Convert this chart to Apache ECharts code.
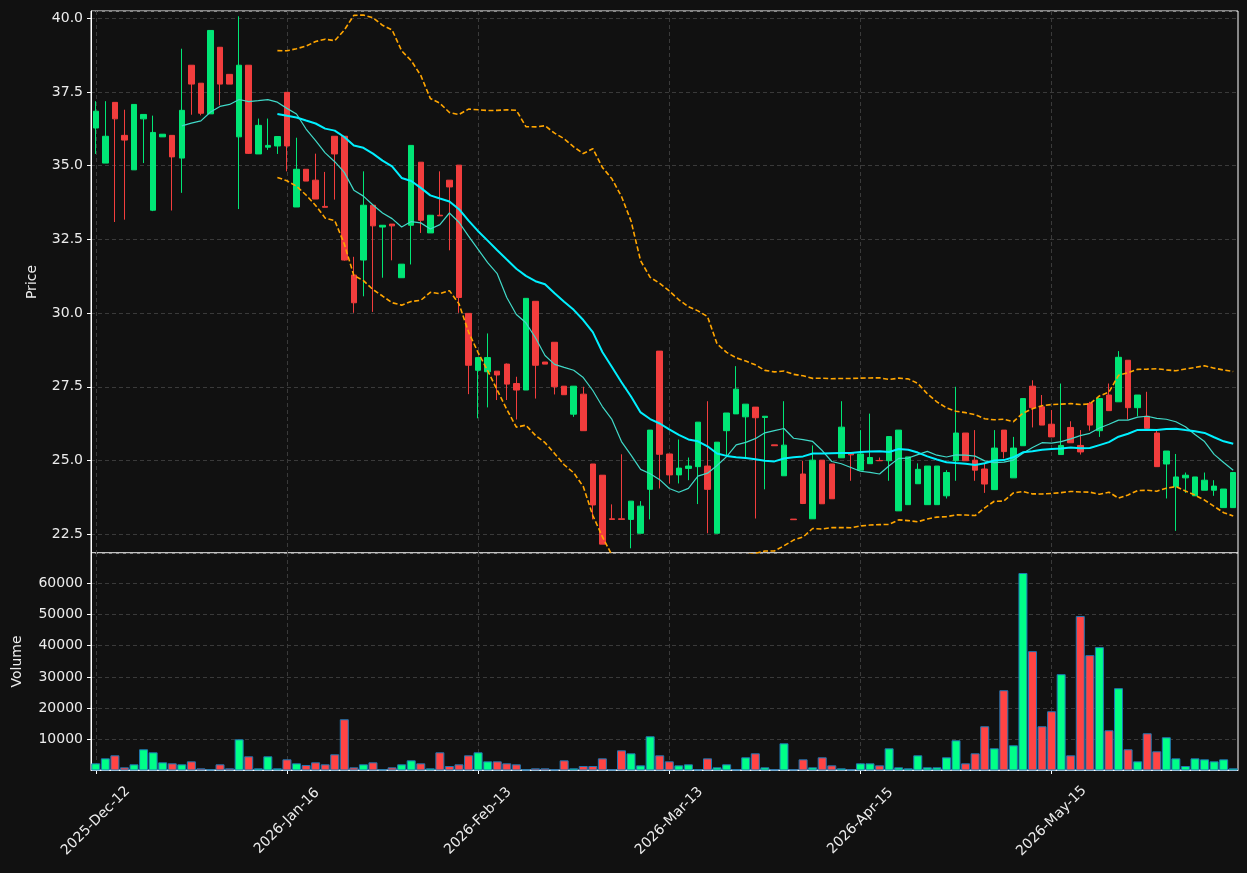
<!DOCTYPE html>
<html lang="en" style="height: 100%">

<head>
    <meta charset="UTF-8">
    <title>Candles</title>
    <script type="text/javascript" src="https://cdn.jsdelivr.net/npm/echarts@6/dist/echarts.min.js"></script>
</head>

<body style="height: 100%; margin: 0; background: #111111">
    <div id="container" style="width: 1247px; height: 873px"></div>
    <script type="text/javascript">
    var dates = ('2025-Dec-12,2025-Dec-15,2025-Dec-16,2025-Dec-17,2025-Dec-18,2025-Dec-19,2025-Dec-22,2025-Dec-23,2025-Dec-29,2025-Dec-30,' +
        '2026-Jan-02,2026-Jan-05,2026-Jan-06,2026-Jan-07,2026-Jan-08,2026-Jan-09,2026-Jan-12,2026-Jan-13,2026-Jan-14,2026-Jan-15,' +
        '2026-Jan-16,2026-Jan-19,2026-Jan-20,2026-Jan-21,2026-Jan-22,2026-Jan-23,2026-Jan-26,2026-Jan-27,2026-Jan-28,2026-Jan-29,' +
        '2026-Jan-30,2026-Feb-02,2026-Feb-03,2026-Feb-04,2026-Feb-05,2026-Feb-06,2026-Feb-09,2026-Feb-10,2026-Feb-11,2026-Feb-12,' +
        '2026-Feb-13,2026-Feb-16,2026-Feb-17,2026-Feb-18,2026-Feb-19,2026-Feb-20,2026-Feb-23,2026-Feb-24,2026-Feb-25,2026-Feb-26,' +
        '2026-Feb-27,2026-Mar-02,2026-Mar-03,2026-Mar-04,2026-Mar-05,2026-Mar-06,2026-Mar-09,2026-Mar-10,2026-Mar-11,2026-Mar-12,' +
        '2026-Mar-13,2026-Mar-16,2026-Mar-17,2026-Mar-18,2026-Mar-19,2026-Mar-20,2026-Mar-23,2026-Mar-24,2026-Mar-25,2026-Mar-26,' +
        '2026-Mar-27,2026-Mar-31,2026-Apr-01,2026-Apr-02,2026-Apr-07,2026-Apr-08,2026-Apr-09,2026-Apr-10,2026-Apr-13,2026-Apr-14,' +
        '2026-Apr-15,2026-Apr-16,2026-Apr-17,2026-Apr-20,2026-Apr-21,2026-Apr-22,2026-Apr-23,2026-Apr-27,2026-Apr-28,2026-Apr-29,' +
        '2026-Apr-30,2026-May-04,2026-May-05,2026-May-06,2026-May-07,2026-May-08,2026-May-11,2026-May-12,2026-May-13,2026-May-14,' +
        '2026-May-15,2026-May-18,2026-May-19,2026-May-20,2026-May-21,2026-May-22,2026-May-26,2026-May-27,2026-May-28,2026-May-29,' +
        '2026-Jun-01,2026-Jun-02,2026-Jun-03,2026-Jun-04,2026-Jun-05,2026-Jun-08,2026-Jun-09,2026-Jun-10,2026-Jun-11,2026-Jun-12').split(',');

    var opens = [
        36.28, 35.09, 37.15, 36.03, 34.86, 36.59, 33.49, 35.98, 36.03, 35.26,
        38.41, 37.80, 36.76, 39.02, 38.10, 35.98, 38.41, 35.40, 35.63, 35.67,
        37.49, 33.60, 34.88, 34.51, 33.62, 36.00, 36.00, 31.29, 31.80, 33.66,
        32.92, 33.02, 31.20, 32.98, 35.12, 32.72, 33.32, 34.51, 35.02, 29.99,
        28.06, 28.01, 28.03, 28.27, 27.61, 27.39, 30.40, 28.34, 29.01, 27.52,
        26.57, 27.25, 24.88, 24.50, 23.02, 23.02, 23.00, 22.53, 24.02, 28.71,
        25.22, 24.51, 24.73, 24.79, 24.81, 22.53, 26.01, 26.58, 26.48, 26.81,
        26.46, 25.53, 24.48, 23.01, 24.54, 23.02, 25.01, 24.88, 25.09, 25.25,
        24.67, 24.89, 25.00, 24.99, 23.29, 23.50, 24.21, 23.50, 23.50, 23.80,
        24.99, 25.93, 25.01, 24.71, 24.01, 26.03, 24.41, 25.50, 27.52, 26.82,
        26.23, 25.20, 26.12, 25.51, 26.93, 26.01, 27.22, 26.99, 28.40, 26.79,
        26.50, 25.93, 24.88, 24.11, 24.41, 23.80, 23.99, 23.99, 23.40, 23.40
    ];
    var highs = [
        37.19, 37.19, 37.15, 36.90, 37.08, 36.74, 36.70, 36.07, 36.03, 38.97,
        38.41, 37.80, 39.59, 39.02, 38.10, 40.07, 38.41, 36.60, 36.60, 35.99,
        37.49, 35.95, 34.88, 35.41, 34.79, 36.00, 36.00, 31.91, 34.81, 33.66,
        32.98, 33.02, 31.66, 35.69, 35.12, 33.32, 34.81, 34.51, 35.02, 29.99,
        28.49, 29.31, 28.03, 28.29, 27.84, 30.50, 30.40, 28.34, 29.01, 27.52,
        27.52, 27.50, 24.88, 24.50, 23.51, 25.21, 23.62, 23.62, 26.03, 28.71,
        25.22, 25.71, 25.10, 26.30, 27.01, 25.62, 26.61, 28.20, 26.91, 26.81,
        26.50, 25.53, 27.01, 23.01, 24.99, 25.51, 25.01, 24.88, 27.01, 25.25,
        26.03, 26.59, 25.10, 25.81, 26.03, 25.12, 24.90, 24.81, 24.81, 24.67,
        27.50, 25.93, 26.03, 24.90, 26.03, 26.03, 25.80, 27.10, 27.72, 27.22,
        26.71, 27.61, 26.33, 26.03, 26.99, 27.10, 27.61, 28.71, 28.40, 27.22,
        27.33, 26.03, 25.32, 25.22, 24.59, 24.44, 24.59, 24.33, 24.03, 24.59
    ];
    var lows = [
        35.40, 35.09, 33.09, 33.17, 34.86, 35.09, 33.46, 35.98, 33.48, 34.08,
        36.73, 36.71, 36.76, 37.05, 37.77, 33.53, 35.40, 35.40, 35.54, 35.40,
        34.81, 33.60, 34.48, 33.87, 33.59, 33.85, 31.78, 30.01, 30.57, 30.04,
        31.20, 31.79, 31.20, 31.65, 32.72, 32.72, 33.30, 32.13, 30.01, 27.25,
        26.43, 26.80, 27.05, 27.05, 26.39, 27.39, 27.10, 28.27, 27.24, 27.23,
        26.48, 26.01, 23.00, 22.16, 23.00, 23.00, 22.02, 22.53, 23.00, 24.05,
        24.22, 24.22, 24.33, 23.52, 22.53, 22.53, 25.15, 26.58, 25.10, 23.03,
        24.02, 25.50, 24.48, 22.99, 23.52, 23.02, 23.53, 23.70, 25.09, 24.31,
        24.67, 24.89, 24.99, 24.31, 23.29, 23.50, 24.21, 23.50, 23.50, 23.71,
        24.31, 24.99, 24.31, 23.90, 24.01, 25.07, 24.41, 25.50, 26.12, 26.20,
        25.80, 25.20, 25.60, 25.20, 26.01, 25.80, 26.69, 26.99, 26.39, 26.50,
        26.09, 24.79, 23.71, 22.61, 23.90, 23.80, 23.99, 23.80, 23.40, 23.40
    ];
    var closes = [
        36.85, 36.00, 36.59, 35.87, 37.08, 36.74, 36.13, 36.07, 35.30, 36.88,
        37.77, 36.78, 39.59, 37.77, 37.77, 38.41, 35.42, 36.37, 35.69, 35.99,
        35.67, 34.88, 34.48, 33.87, 33.59, 35.40, 31.80, 30.35, 33.66, 32.96,
        32.98, 32.96, 31.66, 35.69, 33.15, 33.32, 33.30, 34.28, 30.53, 28.23,
        28.49, 28.49, 27.90, 27.59, 27.39, 30.50, 28.23, 28.27, 27.50, 27.23,
        27.52, 26.01, 23.49, 22.16, 23.00, 23.00, 23.62, 23.45, 26.03, 25.21,
        24.51, 24.74, 24.81, 26.30, 24.02, 25.62, 26.61, 27.42, 26.91, 26.45,
        26.50, 25.50, 25.52, 22.99, 23.54, 25.01, 23.53, 23.70, 26.13, 25.19,
        25.22, 25.10, 24.99, 25.81, 26.03, 25.12, 24.70, 24.81, 24.81, 24.59,
        25.93, 24.99, 24.67, 24.20, 25.42, 25.30, 25.42, 27.10, 26.79, 26.20,
        25.80, 25.51, 25.60, 25.29, 26.20, 27.10, 26.69, 28.50, 26.79, 27.22,
        26.09, 24.79, 25.32, 24.44, 24.50, 24.44, 24.33, 24.13, 24.03, 24.59
    ];
    var volumes = [
        2300, 3900, 4870, 1020, 1980, 6800, 5830, 2620, 2300, 1980,
        2940, 700, 400, 1980, 700, 10000, 4550, 700, 4550, 700,
        3580, 2300, 1770, 2620, 1980, 5190, 16420, 1020, 1980, 2620,
        400, 1020, 1980, 3260, 2300, 700, 5830, 1440, 1980, 4870,
        5830, 2940, 2940, 2300, 1980, 350, 700, 700, 400, 3260,
        700, 1440, 1440, 3900, 400, 6470, 5510, 1660, 10970, 4870,
        2940, 1660, 1980, 400, 3900, 1020, 1980, 400, 4230, 5510,
        1020, 400, 8720, 400, 3580, 1020, 4230, 1660, 700, 400,
        2300, 2300, 1660, 7120, 1020, 700, 4870, 1020, 1020, 4230,
        9680, 2300, 5510, 14180, 7120, 25730, 8080, 63290, 38250, 14180,
        18990, 30870, 4870, 49490, 36970, 39540, 12890, 26380, 6800, 2940,
        11930, 6150, 10650, 3900, 1440, 3900, 3580, 2940, 3580, 700
    ];

    var upColor = '#00e676';
    var downColor = '#f23d3d';
    var volUp = '#00ff88';
    var volDown = '#ff4444';
    var gridColor = '#3a3a3a';

    // rolling mean / sample std of the closes (moving averages and bands)
    function rolling(n, fn) {
        return closes.map(function (c, i) {
            if (i < n - 1) return null;
            var w = closes.slice(i - n + 1, i + 1);
            return fn(w);
        });
    }
    function mean(w) {
        return w.reduce(function (a, b) { return a + b; }, 0) / w.length;
    }
    function std(w) {
        var m = mean(w);
        var s = w.reduce(function (a, b) { return a + (b - m) * (b - m); }, 0);
        return Math.sqrt(s / (w.length - 1));
    }
    var ma10 = rolling(10, mean);
    var ma20 = rolling(20, mean);
    var bandUp = rolling(20, function (w) { return mean(w) + 2 * std(w); });
    var bandLow = rolling(20, function (w) { return mean(w) - 2 * std(w); });

    var candleData = opens.map(function (o, i) {
        return [o, closes[i], lows[i], highs[i]];
    });
    var volData = volumes.map(function (v, i) {
        var up = closes[i] >= opens[i];
        return { value: v, itemStyle: { color: up ? volUp : volDown } };
    });

    var textStyle = { color: '#ececec', fontSize: 14, fontFamily: 'DejaVu Sans' };

    var myChart = echarts.init(document.getElementById('container'));
    var option = {
        animation: false,
        backgroundColor: '#111111',
        grid: [{
            left: 91, right: 9, top: 11, height: 542,
            show: true, borderColor: '#ffffff', borderWidth: 1, backgroundColor: '#111111'
        }, {
            left: 91, right: 9, top: 553, height: 217,
            show: true, borderColor: '#ffffff', borderWidth: 1, backgroundColor: '#111111'
        }],
        xAxis: [{
            type: 'category',
            gridIndex: 0,
            data: dates,
            boundaryGap: true,
            axisLine: { show: false },
            axisTick: { show: false },
            axisLabel: { show: false },
            splitLine: {
                show: true, interval: 19, alignWithLabel: true,
                lineStyle: { color: gridColor, type: [4, 3], width: 1 }
            }
        }, {
            type: 'category',
            gridIndex: 1,
            data: dates,
            boundaryGap: true,
            axisLine: { show: true, lineStyle: { color: '#ffffff' } },
            axisTick: { show: true, interval: 19, alignWithLabel: true, length: 4, lineStyle: { color: '#ffffff' } },
            axisLabel: Object.assign({
                interval: 19, rotate: 45, margin: 51,
                align: 'center', verticalAlign: 'middle'
            }, textStyle),
            splitLine: {
                show: true, interval: 19, alignWithLabel: true,
                lineStyle: { color: gridColor, type: [4, 3], width: 1 }
            }
        }],
        yAxis: [{
            type: 'value',
            gridIndex: 0,
            min: 21.86,
            max: 40.25,
            minInterval: 2.5,
            maxInterval: 2.5,
            name: 'Price',
            nameLocation: 'middle',
            nameGap: 52,
            nameTextStyle: textStyle,
            axisLine: { show: true, lineStyle: { color: '#ffffff' } },
            axisTick: { show: true, length: 4, lineStyle: { color: '#ffffff' } },
            axisLabel: Object.assign({
                showMinLabel: false,
                showMaxLabel: false,
                formatter: function (v) { return v.toFixed(1); }
            }, textStyle),
            splitLine: { show: true, lineStyle: { color: gridColor, type: [4, 3], width: 1 } }
        }, {
            type: 'value',
            gridIndex: 1,
            min: 160,
            max: 69700,
            minInterval: 10000,
            maxInterval: 10000,
            name: 'Volume',
            nameLocation: 'middle',
            nameGap: 67,
            nameTextStyle: textStyle,
            axisLine: { show: true, lineStyle: { color: '#ffffff' } },
            axisTick: { show: true, length: 4, lineStyle: { color: '#ffffff' } },
            axisLabel: Object.assign({
                showMinLabel: false,
                showMaxLabel: false,
                formatter: function (v) { return String(Math.round(v)); }
            }, textStyle),
            splitLine: { show: true, lineStyle: { color: gridColor, type: [4, 3], width: 1 } }
        }],
        series: [{
            type: 'candlestick',
            xAxisIndex: 0,
            yAxisIndex: 0,
            data: candleData,
            barWidth: 6,
            itemStyle: {
                color: upColor,
                color0: downColor,
                borderColor: upColor,
                borderColor0: downColor,
                borderWidth: 1
            }
        }, {
            type: 'line',
            name: 'MA10',
            data: ma10,
            symbol: 'none',
            z: 3,
            lineStyle: { color: '#40d9c8', width: 1.2 }
        }, {
            type: 'line',
            name: 'MA20',
            data: ma20,
            symbol: 'none',
            z: 4,
            lineStyle: { color: '#00f0ff', width: 2 }
        }, {
            type: 'line',
            name: 'Upper',
            data: bandUp,
            symbol: 'none',
            z: 4,
            lineStyle: { color: '#ffa500', width: 1.6, type: [5, 2.5] }
        }, {
            type: 'line',
            name: 'Lower',
            data: bandLow,
            symbol: 'none',
            z: 4,
            lineStyle: { color: '#ffa500', width: 1.6, type: [5, 2.5] }
        }, {
            type: 'bar',
            xAxisIndex: 1,
            yAxisIndex: 1,
            data: volData,
            barWidth: 9,
            itemStyle: { borderColor: '#1f77b4', borderWidth: 1 }
        }]
    };

    myChart.setOption(option);
    </script>
</body>

</html>
